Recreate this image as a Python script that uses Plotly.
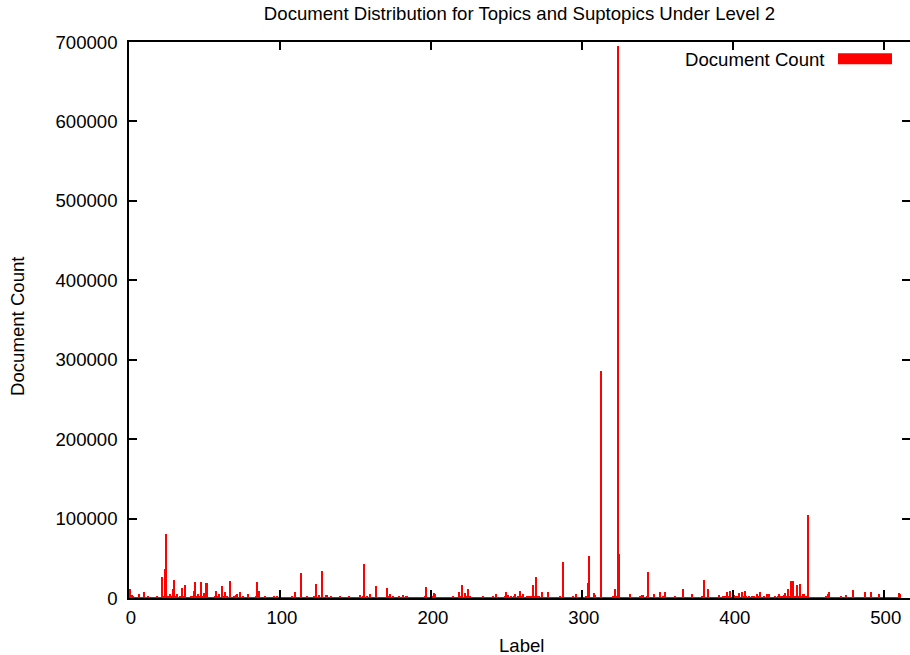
import plotly.graph_objects as go

# Document counts per label (labels 0..511), 16 labels per row
counts = [
    2000, 11000, 3400, 2000, 800, 600, 1200, 4600, 900, 1000, 7500, 1200, 700, 1500, 600, 500,
    800, 1000, 600, 1500, 900, 1200, 26000, 2000, 36000, 81000, 1500, 5000, 1800, 11000, 23000, 1500,
    5000, 1200, 2000, 13000, 1500, 16000, 900, 1200, 1000, 2500, 2500, 9000, 20000, 1500, 5000, 1800,
    20000, 1500, 6000, 19000, 19000, 1200, 800, 900, 1000, 1500, 9000, 1800, 5000, 1200, 15000, 2000,
    7000, 1500, 1000, 21500, 1200, 900, 1500, 3500, 5000, 1200, 7000, 1000, 2000, 800, 700, 5000,
    1000, 800, 600, 900, 1500, 20000, 9000, 1000, 700, 600, 2000, 800, 500, 600, 900, 700,
    2500, 800, 2500, 600, 500, 700, 600, 800, 500, 900, 700, 800, 2500, 1200, 7000, 800,
    600, 900, 32000, 1000, 700, 900, 3000, 1200, 800, 600, 900, 1500, 18000, 1200, 3500, 900,
    34000, 1000, 800, 3500, 900, 700, 2500, 800, 600, 700, 500, 900, 2500, 700, 600, 800,
    500, 700, 2500, 600, 800, 500, 700, 900, 1200, 3500, 900, 1500, 43000, 1200, 3000, 900,
    5500, 1000, 800, 1200, 15000, 900, 700, 600, 800, 900, 1200, 12000, 1500, 5500, 800, 2000,
    700, 900, 1200, 3000, 800, 1000, 3400, 900, 2500, 700, 600, 800, 500, 600, 700, 500,
    600, 800, 900, 1200, 3000, 13500, 1000, 800, 700, 1500, 6300, 4600, 900, 600, 500, 700,
    600, 1000, 500, 600, 700, 800, 900, 2000, 700, 600, 1200, 7500, 1500, 17000, 1200, 6300,
    1500, 11300, 2000, 800, 600, 500, 700, 600, 500, 800, 700, 1500, 600, 500, 700, 900,
    1000, 3000, 900, 4600, 800, 600, 500, 700, 1200, 1500, 8000, 4000, 1000, 2500, 1200, 1500,
    5500, 1000, 1500, 8800, 1500, 4600, 900, 1200, 3000, 1500, 3000, 1800, 16500, 2000, 27000, 1500,
    3000, 1200, 7000, 900, 800, 1000, 7000, 700, 600, 500, 700, 600, 800, 900, 2000, 1200,
    45000, 900, 700, 600, 800, 1200, 3000, 1000, 5500, 800, 700, 600, 900, 800, 1200, 2000,
    18400, 53000, 1200, 900, 6300, 4000, 800, 700, 1200, 286000, 900, 700, 600, 800, 700, 900,
    1000, 1500, 11300, 1800, 695000, 56000, 1200, 800, 700, 600, 900, 1200, 4600, 800, 600, 500,
    700, 800, 1200, 1500, 4000, 4000, 1200, 1800, 33000, 1000, 900, 1200, 4600, 800, 900, 1200,
    7000, 900, 1500, 7000, 800, 700, 600, 500, 700, 900, 2500, 800, 600, 900, 1200, 11300,
    900, 700, 600, 500, 800, 4600, 700, 600, 500, 800, 1000, 900, 1500, 22200, 1200, 900,
    11300, 800, 600, 500, 700, 600, 900, 4000, 800, 1200, 2500, 1500, 7000, 1800, 8800, 1200,
    1500, 4000, 1500, 1800, 6300, 1200, 7000, 1500, 9000, 2000, 1200, 2500, 900, 1500, 3000, 1200,
    5000, 1500, 7000, 1200, 900, 2500, 1000, 4600, 4600, 1200, 900, 1000, 2500, 1200, 1500, 5500,
    1500, 1800, 4000, 6300, 2000, 11700, 2500, 21800, 21800, 2000, 1500, 16300, 2500, 17600, 2000, 5500,
    3000, 1500, 104000, 1200, 900, 700, 600, 500, 700, 600, 500, 700, 900, 1200, 1500, 4600,
    7500, 900, 700, 600, 500, 700, 800, 900, 1500, 700, 800, 3400, 700, 600, 800, 1200,
    10000, 900, 700, 600, 500, 700, 900, 1200, 7500, 800, 700, 1000, 7500, 800, 600, 900,
    1200, 4600, 800, 600, 700, 500, 600, 700, 500, 600, 800, 700, 900, 1200, 6300, 5000,
]
labels = list(range(len(counts)))

x_ticks = [0, 100, 200, 300, 400, 500]
y_ticks = [0, 100000, 200000, 300000, 400000, 500000, 600000, 700000]
y_ticktext = [str(v) for v in y_ticks]

title_text = "Document Distribution for Topics and Suptopics Under Level 2"
series_name = "Document Count"

FONT = "Liberation Sans, Arial, sans-serif"
FS = 18.6
W, H = 910, 655
ML, MT, MB = 129, 42, 57

fig = go.Figure()
fig.add_trace(go.Bar(
    x=labels, y=counts, name=series_name,
    marker=dict(color="#ff0000", line=dict(width=0)),
    showlegend=False,
))

axis_common = dict(
    showgrid=False, zeroline=False,
    ticks="inside", ticklen=8, tickwidth=1.5, tickcolor="black",
    showline=True, linecolor="black", linewidth=1.5,
    tickfont=dict(family=FONT, size=FS, color="black"),
)

fig.update_layout(
    width=W, height=H,
    margin=dict(l=ML, r=0, t=MT, b=MB, pad=0),
    paper_bgcolor="white", plot_bgcolor="white",
    bargap=0.0,
    font=dict(family=FONT, size=FS, color="black"),
    title=dict(text=title_text, x=0.5, xref="paper", xanchor="center",
               y=1 - 13 / H, yref="container", yanchor="middle",
               font=dict(family=FONT, size=FS, color="black")),
    xaxis=dict(range=[0, (W - ML) / 1.5095], tickvals=x_ticks,
               ticktext=[str(v) for v in x_ticks], mirror="ticks",
               ticklabelstandoff=2, ticklabelshift=2, **axis_common),
    yaxis=dict(range=[0, 700000], tickvals=y_ticks, ticktext=y_ticktext,
               mirror=False, ticklabelstandoff=6, **axis_common),
    yaxis2=dict(range=[0, 700000], tickvals=y_ticks, overlaying="y", side="right",
                showgrid=False, zeroline=False, showline=False,
                ticks="inside", ticklen=8, tickwidth=1.5, tickcolor="black",
                showticklabels=False),
)

# Right-hand ticks without a border line
fig.add_trace(go.Scatter(x=[None], y=[None], yaxis="y2", showlegend=False, hoverinfo="skip"))

# Axis titles
fig.add_annotation(text="Label", xref="paper", yref="paper", x=(522 - ML) / (W - ML),
                   y=(598 - 645) / 556, xanchor="center", yanchor="middle", showarrow=False,
                   font=dict(family=FONT, size=FS, color="black"))
fig.add_annotation(text="Document Count", xref="paper", yref="paper",
                   x=(18 - ML) / (W - ML), y=(598 - 326) / 556, textangle=-90,
                   xanchor="center", yanchor="middle", showarrow=False,
                   font=dict(family=FONT, size=FS, color="black"))

# Key entry in the top-right corner
fig.add_annotation(text=series_name, xref="paper", yref="paper",
                   x=(827 - ML) / (W - ML), y=(598 - 59.5) / 556,
                   xanchor="right", yanchor="middle", showarrow=False,
                   font=dict(family=FONT, size=FS, color="black"))
fig.add_shape(type="rect", xref="paper", yref="paper",
              x0=(838 - ML) / (W - ML), x1=(892 - ML) / (W - ML),
              y0=(598 - 64.3) / 556, y1=(598 - 53.3) / 556,
              fillcolor="#ff0000", line=dict(width=0))

fig.write_html("out.html")
